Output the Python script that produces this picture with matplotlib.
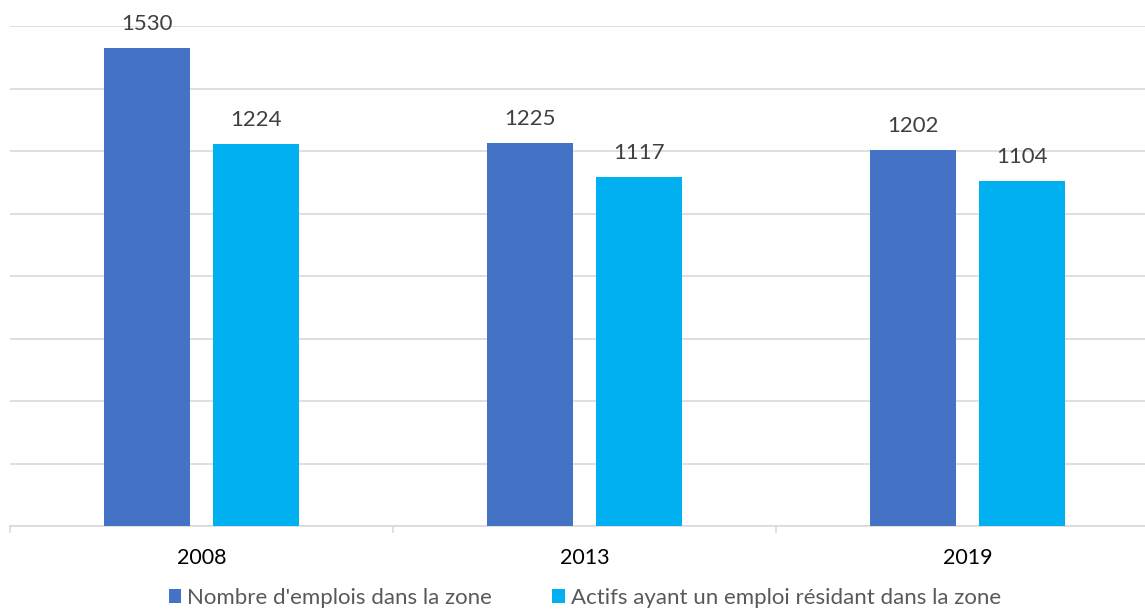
import matplotlib.pyplot as plt
import numpy as np

years = ['2008', '2013', '2019']
emplois = [1530, 1225, 1202]
actifs = [1224, 1117, 1104]
series_names = ["Nombre d'emplois dans la zone",
                "Actifs ayant un emploi résidant dans la zone"]

plt.rcParams['font.family'] = ['Lato', 'DejaVu Sans']

W, H = 1145, 611
fig = plt.figure(figsize=(W / 100, H / 100), dpi=100)
ax = fig.add_axes([10 / W, 85 / H, 1149 / W, 500 / H])

x = np.arange(len(years))
bw = 0.225
off = 0.142
b1 = ax.bar(x - off, emplois, bw, color='#4472C4', label=series_names[0], zorder=3)
b2 = ax.bar(x + off, actifs, bw, color='#00B0F0', label=series_names[1], zorder=3)

for bars in (b1, b2):
    for rect in bars:
        h = rect.get_height()
        ax.annotate(f'{h:.0f}', (rect.get_x() + rect.get_width() / 2, h),
                    xytext=(0, 10), textcoords='offset points',
                    ha='center', va='bottom', fontsize=16, color='#404040')

ax.set_xlim(-0.5, 2.5)
ax.set_ylim(0, 1600)
ax.set_yticks(np.arange(0, 1601, 200))
ax.yaxis.grid(True, color='#D9D9D9', linewidth=1.2, zorder=0)
ax.tick_params(axis='y', left=False, labelleft=False)

ax.set_xticks(x)
ax.set_xticklabels(years, fontsize=15.5, color='black')
ax.tick_params(axis='x', length=0, pad=16)
# category separators below the baseline
for xb in np.arange(-0.5, 3.0, 1.0):
    ax.plot([xb, xb], [0, -0.012], transform=ax.get_xaxis_transform(),
            color='#D9D9D9', linewidth=1.2, clip_on=False)

for s in ['top', 'right', 'left']:
    ax.spines[s].set_visible(False)
ax.spines['bottom'].set_color('#D9D9D9')
ax.spines['bottom'].set_linewidth(1.2)

fig.legend(handles=[b1, b2], loc='center', bbox_to_anchor=(585 / W, 13 / H),
           ncol=2, frameon=False, fontsize=16, labelcolor='#595959',
           handlelength=0.55, handleheight=0.55, handletextpad=0.3,
           columnspacing=2.7, borderpad=0)

fig.savefig('out.png', dpi=100)
